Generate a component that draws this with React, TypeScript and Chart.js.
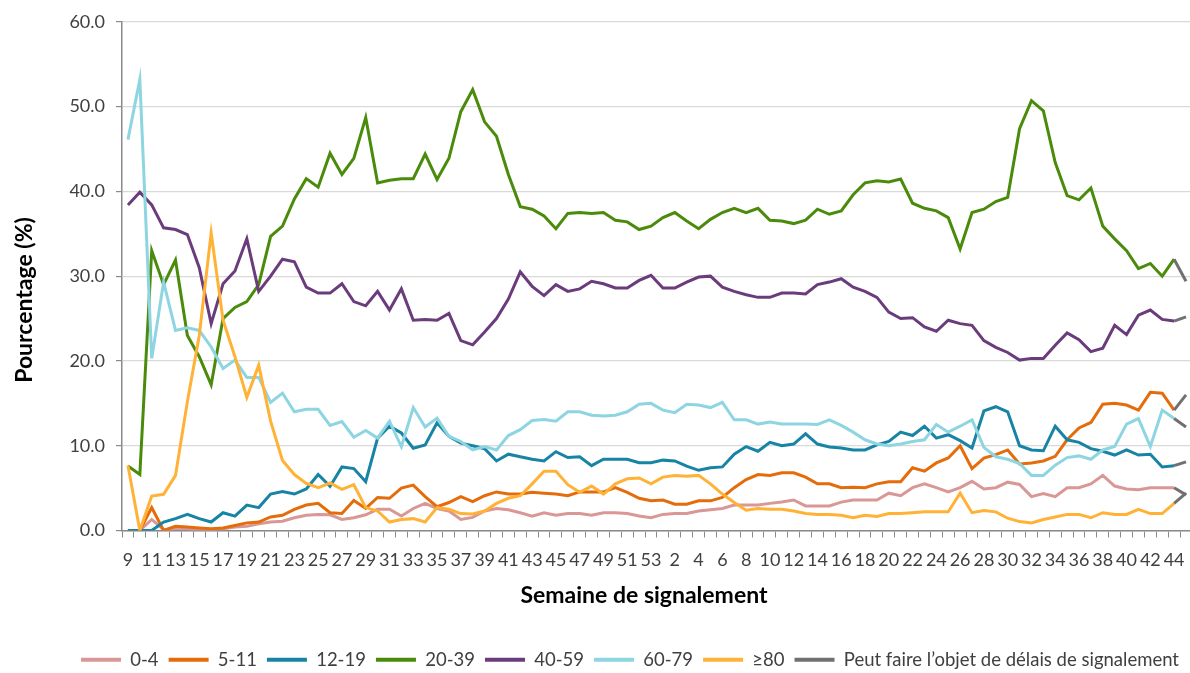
import React, { useEffect, useRef } from 'react';
import { Chart, registerables } from 'chart.js';

Chart.register(...registerables);

// Reporting weeks: 2020 weeks 9–53, then 2021 weeks 1–45
const WEEKS = [
  '9', '10', '11', '12', '13', '14', '15', '16', '17', '18', '19', '20', '21', '22', '23', '24', '25', '26', '27', '28',
  '29', '30', '31', '32', '33', '34', '35', '36', '37', '38', '39', '40', '41', '42', '43', '44', '45', '46', '47', '48',
  '49', '50', '51', '52', '53',
  '1', '2', '3', '4', '5', '6', '7', '8', '9', '10', '11', '12', '13', '14', '15', '16', '17', '18', '19', '20',
  '21', '22', '23', '24', '25', '26', '27', '28', '29', '30', '31', '32', '33', '34', '35', '36', '37', '38', '39', '40',
  '41', '42', '43', '44', '45',
];

const AGE_0_4 = [
  0, 0, 1.3, 0.1, 0.2, 0.2, 0.1, 0.1, 0.2, 0.4,
  0.5, 0.8, 1.0, 1.1, 1.5, 1.8, 1.9, 1.85, 1.3, 1.5,
  1.85, 2.5, 2.5, 1.7, 2.6, 3.2, 2.6, 2.3, 1.3, 1.55,
  2.3, 2.6, 2.45, 2.1, 1.7, 2.1, 1.8, 2.0, 2.0, 1.8,
  2.1, 2.1, 2.0, 1.7, 1.5, 1.9, 2.0, 2.0, 2.3, 2.45,
  2.6, 3.0, 3.0, 3.0, 3.2, 3.35, 3.6, 2.9, 2.9, 2.9,
  3.35, 3.6, 3.6, 3.6, 4.4, 4.1, 5.05, 5.5, 5.05, 4.55,
  5.05, 5.8, 4.9, 5.05, 5.7, 5.43, 4.0, 4.35, 4.0, 5.05,
  5.05, 5.5, 6.5, 5.24, 4.9, 4.8, 5.05, 5.05, 5.05, 4.2,
];

const AGE_5_11 = [
  0, 0, 2.7, 0, 0.5, 0.4, 0.3, 0.2, 0.3, 0.6,
  0.9, 1.0, 1.6, 1.8, 2.5, 3.0, 3.2, 2.1, 2.0, 3.55,
  2.6, 3.9, 3.8, 5.0, 5.35, 4.0, 2.8, 3.3, 4.0, 3.4,
  4.1, 4.55, 4.3, 4.3, 4.5, 4.4, 4.3, 4.1, 4.55, 4.55,
  4.55, 5.05, 4.5, 3.8, 3.5, 3.6, 3.1, 3.1, 3.5, 3.5,
  3.9, 5.05, 6.0, 6.6, 6.5, 6.8, 6.8, 6.3, 5.5, 5.5,
  5.05, 5.1, 5.05, 5.5, 5.75, 5.75, 7.4, 7.0, 7.97, 8.55,
  10.0, 7.3, 8.55, 8.95, 9.5, 7.85, 7.97, 8.2, 8.75, 10.7,
  12.1, 12.74, 14.9, 15.0, 14.8, 14.2, 16.3, 16.2, 14.2, 16.0,
];

const AGE_12_19 = [
  0, 0, 0, 1.0, 1.4, 1.9, 1.4, 1.0, 2.1, 1.7,
  3.0, 2.7, 4.3, 4.6, 4.3, 4.9, 6.6, 5.2, 7.5, 7.3,
  5.75, 10.9, 12.3, 11.5, 9.7, 10.1, 12.7, 11.1, 10.3, 10.0,
  9.65, 8.2, 9.0, 8.7, 8.4, 8.2, 9.3, 8.6, 8.7, 7.65,
  8.4, 8.4, 8.4, 8.0, 8.0, 8.3, 8.2, 7.6, 7.1, 7.4,
  7.5, 9.0, 9.9, 9.35, 10.4, 10.0, 10.2, 11.4, 10.2, 9.85,
  9.73, 9.5, 9.5, 10.1, 10.5, 11.6, 11.2, 12.3, 10.9, 11.3,
  10.6, 9.73, 14.1, 14.6, 14.0, 10.0, 9.5, 9.4, 12.3, 10.7,
  10.4, 9.65, 9.35, 8.9, 9.5, 8.9, 9.0, 7.5, 7.65, 8.1,
];

const AGE_20_39 = [
  7.6, 6.6, 33.0, 29.0, 31.9, 23.0, 20.5, 17.2, 25.0, 26.3,
  27.0, 29.0, 34.7, 35.9, 39.1, 41.5, 40.5, 44.5, 42.0, 43.9,
  48.7, 41.0, 41.3, 41.5, 41.5, 44.4, 41.4, 43.9, 49.4, 52.0,
  48.2, 46.5, 42.0, 38.2, 37.9, 37.1, 35.6, 37.4, 37.5, 37.4,
  37.5, 36.6, 36.4, 35.5, 35.9, 36.9, 37.5, 36.5, 35.6, 36.7,
  37.5, 38.0, 37.5, 38.0, 36.6, 36.5, 36.2, 36.6, 37.9, 37.3,
  37.7, 39.6, 41.0, 41.25, 41.1, 41.45, 38.6, 38.0, 37.7, 36.9,
  33.2, 37.5, 37.9, 38.8, 39.3, 47.4, 50.7, 49.5, 43.4, 39.5,
  39.0, 40.4, 35.9, 34.4, 33.0, 30.9, 31.5, 30.0, 32.0, 29.4,
];

const AGE_40_59 = [
  38.4, 39.9, 38.4, 35.7, 35.5, 34.9, 31.0, 24.4, 29.1, 30.6,
  34.4, 28.2, 30.0, 32.0, 31.7, 28.7, 28.0, 28.0, 29.1, 27.0,
  26.5, 28.2, 26.0, 28.5, 24.8, 24.9, 24.8, 25.6, 22.4, 21.9,
  23.4, 25.0, 27.3, 30.5, 28.8, 27.7, 29.0, 28.2, 28.5, 29.4,
  29.1, 28.6, 28.6, 29.5, 30.1, 28.6, 28.6, 29.3, 29.9, 30.0,
  28.7, 28.2, 27.8, 27.5, 27.5, 28.0, 28.0, 27.9, 29.0, 29.3,
  29.7, 28.7, 28.2, 27.5, 25.75, 25.0, 25.1, 24.0, 23.5, 24.8,
  24.4, 24.2, 22.4, 21.6, 21.0, 20.1, 20.3, 20.3, 21.85, 23.3,
  22.5, 21.1, 21.5, 24.2, 23.1, 25.4, 26.0, 24.9, 24.7, 25.2,
];

const AGE_60_79 = [
  46.1, 53.2, 20.3, 29.3, 23.6, 23.9, 23.6, 21.65, 19.1, 20.1,
  18.05, 18.05, 15.1, 16.2, 14.0, 14.3, 14.3, 12.4, 12.85, 11.0,
  11.8, 10.9, 12.9, 9.9, 14.5, 12.2, 13.25, 11.1, 10.5, 9.5,
  9.9, 9.5, 11.2, 11.9, 12.97, 13.1, 12.9, 14.0, 14.0, 13.6,
  13.5, 13.6, 14.0, 14.9, 15.0, 14.2, 13.9, 14.9, 14.8, 14.5,
  15.1, 13.05, 13.05, 12.55, 12.8, 12.55, 12.55, 12.55, 12.5, 13.05,
  12.4, 11.6, 10.7, 10.2, 10.0, 10.2, 10.5, 10.7, 12.5, 11.6,
  12.3, 13.05, 9.8, 8.7, 8.4, 7.9, 6.5, 6.5, 7.7, 8.6,
  8.8, 8.4, 9.5, 9.9, 12.55, 13.2, 9.9, 14.2, 13.2, 12.2,
];

const AGE_80_PLUS = [
  7.66, 0, 4.07, 4.27, 6.5, 15.2, 23.0, 35.1, 24.8, 20.5,
  15.7, 19.5, 12.9, 8.25, 6.6, 5.55, 5.04, 5.6, 4.85, 5.4,
  2.7, 2.3, 1.0, 1.3, 1.4, 1.0, 2.7, 2.5, 2.0, 1.95,
  2.3, 3.2, 3.8, 4.1, 5.5, 7.0, 7.0, 5.4, 4.5, 5.24,
  4.3, 5.5, 6.1, 6.2, 5.5, 6.3, 6.5, 6.4, 6.5, 5.5,
  4.3, 3.3, 2.4, 2.6, 2.5, 2.5, 2.3, 2.0, 1.9, 1.9,
  1.8, 1.5, 1.8, 1.65, 2.0, 2.0, 2.1, 2.2, 2.2, 2.2,
  4.4, 2.1, 2.35, 2.2, 1.45, 1.05, 0.9, 1.3, 1.6, 1.9,
  1.9, 1.5, 2.1, 1.9, 1.9, 2.5, 2.0, 2.0, 3.2, 4.4,
];

const SERIES_LABELS = ['0-4', '5-11', '12-19', '20-39', '40-59', '60-79', '≥80'];
const SERIES_COLORS = ['#D99795', '#E46C0A', '#1784A5', '#4B8B0B', '#6A3C7C', '#8ED5E2', '#FFB236'];
const DELAY_LABEL = 'Peut faire l’objet de délais de signalement';
const DELAY_COLOR = '#707070';
const DELAY_FROM_INDEX = 88; // segments after this week may be subject to reporting delays

const Y_TITLE = 'Pourcentage (%)';
const X_TITLE = 'Semaine de signalement';

const AXIS_COLOR = '#8a8a8a';
const TEXT_COLOR = '#404040';
const FONT = 'Lato';

const titlesAndLegendPlugin = {
  id: 'titlesAndLegend',
  afterLayout(chart: any) {
    const lg = chart.legend;
    if (lg) {
      lg.left += 31;
      lg.right += 31;
      lg.top += 6;
      lg.bottom += 6;
    }
  },
  afterDraw(chart: any) {
    const { ctx } = chart;
    ctx.save();
    ctx.fillStyle = '#000000';
    ctx.font = `bold 23px ${FONT}`;
    ctx.textAlign = 'center';
    ctx.textBaseline = 'middle';
    ctx.fillText(X_TITLE, 644, 596);
    ctx.translate(25, 300);
    ctx.rotate(-Math.PI / 2);
    ctx.fillText(Y_TITLE, 0, 0);
    ctx.restore();
  },
};

export default function App() {
  const canvasRef = useRef<HTMLCanvasElement | null>(null);

  useEffect(() => {
    if (!canvasRef.current) return;
    const values = [AGE_0_4, AGE_5_11, AGE_12_19, AGE_20_39, AGE_40_59, AGE_60_79, AGE_80_PLUS];
    const datasets: any[] = values.map((data, i) => ({
      label: SERIES_LABELS[i],
      data,
      borderColor: SERIES_COLORS[i],
      backgroundColor: SERIES_COLORS[i],
      borderWidth: 3,
      pointRadius: 0,
      tension: 0,
      fill: false,
      order: 10 - i,
      segment: {
        borderColor: (c: any) => (c.p0DataIndex >= DELAY_FROM_INDEX ? DELAY_COLOR : undefined),
      },
    }));
    datasets.push({
      label: DELAY_LABEL,
      data: [],
      borderColor: DELAY_COLOR,
      backgroundColor: DELAY_COLOR,
      borderWidth: 3,
      pointRadius: 0,
      order: 0,
    });

    const chart = new Chart(canvasRef.current, {
      type: 'line',
      data: { labels: WEEKS, datasets },
      options: {
        animation: false,
        responsive: false,
        maintainAspectRatio: false,
        devicePixelRatio: 1,
        layout: { padding: { top: 21, left: 0, right: 0, bottom: 0 } },
        plugins: {
          tooltip: { enabled: false },
          legend: {
            position: 'bottom',
            labels: {
              boxWidth: 40,
              boxHeight: 4,
              padding: 10,
              color: TEXT_COLOR,
              font: { family: FONT, size: 18.5 },
              sort: (a: any, b: any) => a.datasetIndex - b.datasetIndex,
              generateLabels: (ch: any) =>
                (Chart.defaults.plugins.legend.labels.generateLabels as any)(ch).map((l: any) => ({
                  ...l,
                  lineWidth: 0,
                  fillStyle: l.strokeStyle,
                })),
            },
          },
        },
        scales: {
          x: {
            type: 'category',
            offset: true,
            grid: {
              display: true,
              drawOnChartArea: false,
              drawTicks: true,
              tickLength: 7,
              offset: true,
              color: AXIS_COLOR,
              tickColor: AXIS_COLOR,
              lineWidth: 1,
            },
            border: { display: true, color: AXIS_COLOR, width: 1.5 },
            ticks: {
              autoSkip: false,
              maxRotation: 0,
              minRotation: 0,
              padding: 12,
              color: TEXT_COLOR,
              font: { family: FONT, size: 18 },
              callback: function (this: any, v: any, i: number) {
                return i % 2 === 0 ? this.getLabelForValue(v) : '';
              },
            },
            afterFit: (s: any) => {
              s.height = 104;
            },
          },
          y: {
            min: 0,
            max: 60,
            ticks: {
              stepSize: 10,
              padding: 11,
              color: TEXT_COLOR,
              font: { family: FONT, size: 18 },
              callback: (v: any) => Number(v).toFixed(1),
            },
            grid: {
              color: '#d9d9d9',
              lineWidth: 1.2,
              drawTicks: true,
              tickLength: 6,
              tickColor: AXIS_COLOR,
            },
            border: { display: true, color: AXIS_COLOR, width: 1.5 },
            afterFit: (s: any) => {
              s.width = 122;
            },
          },
        },
      },
      plugins: [titlesAndLegendPlugin],
    } as any);

    return () => chart.destroy();
  }, []);

  return (
    <div
      style={{
        position: 'fixed',
        left: 0,
        top: 0,
        width: 1190,
        height: 673,
        overflow: 'hidden',
        background: '#ffffff',
      }}
    >
      <canvas ref={canvasRef} width={1198} height={673} style={{ display: 'block' }} />
    </div>
  );
}
